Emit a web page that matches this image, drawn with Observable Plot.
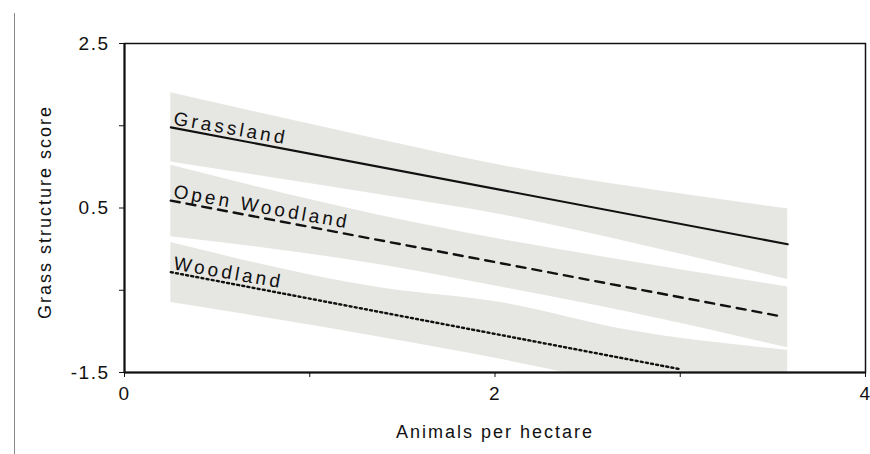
<!DOCTYPE html>
<html><head><meta charset="utf-8">
<script src="https://cdn.jsdelivr.net/npm/d3@7"></script>
<script src="https://cdn.jsdelivr.net/npm/@observablehq/plot@0.6"></script>
<style>
body{margin:0;background:#fff;}
#wrap{position:relative;width:870px;height:454px;}
#edge{position:absolute;left:14px;top:13px;width:0;height:441px;border-left:1.5px solid #8a8a8a;}
</style></head><body><div id="wrap"><div id="edge"></div></div>
<script>
const habitats = ["Grassland", "Open Woodland", "Woodland"];
const lineStartX = [0.25, 0.25, 0.25];
const lineStartY = [1.48, 0.59, -0.28];
const lineEndX = [3.58, 3.55, 3.0];
const lineEndY = [0.06, -0.82, -1.46];
const dashes = ["none", "9,7", "2,3.2"];

const bandX = [0.25, 1.38, 2.03, 2.73, 3.58];
const grassUpper = [1.90, 1.33, 1.02, 0.76, 0.49];
const grassLower = [1.06, 0.66, 0.42, 0.08, -0.37];
const openUpper = [1.02, 0.41, 0.12, -0.15, -0.46];
const openLower = [0.15, -0.19, -0.46, -0.77, -1.20];
const woodUpper = [0.08, -0.47, -0.65, -0.99, -1.23];
const woodLower = [-0.65, -1.07, -1.34, -1.68, -2.20];

const xTicks = [0, 1, 2, 3, 4];
const xTickLabels = ["0", "", "2", "", "4"];
const yTicks = [-1.5, -0.5, 0.5, 1.5, 2.5];
const yTickLabels = ["-1.5", "", "0.5", "", "2.5"];

const uppers = [grassUpper, openUpper, woodUpper];
const lowers = [grassLower, openLower, woodLower];
const bands = habitats.map((h, k) => bandX.map((x, i) => ({habitat: h, x, lo: lowers[k][i], hi: uppers[k][i]})));
const lines = habitats.map((h, k) => [
  {habitat: h, x: lineStartX[k], y: lineStartY[k]},
  {habitat: h, x: lineEndX[k], y: lineEndY[k]}
]);
const labels = habitats.map((h, k) => ({text: h, x: lineStartX[k], y: lineStartY[k]}));

const font = "Liberation Sans, Arial, Helvetica, sans-serif";
const chart = Plot.plot({
  width: 870, height: 454,
  marginLeft: 124, marginRight: 5, marginTop: 43, marginBottom: 82,
  style: {fontFamily: font, background: "transparent", color: "#111"},
  x: {domain: [0, 4]},
  y: {domain: [-1.5, 2.5]},
  marks: [
    ...bands.map(b => Plot.areaY(b, {x: "x", y1: "lo", y2: "hi", fill: "#e6e6e3", curve: "monotone-x", clip: true})),
    ...lines.map((l, k) => Plot.line(l, {x: "x", y: "y", stroke: "#111", strokeWidth: k === 0 ? 2.1 : 2.4, strokeDasharray: dashes[k], clip: true})),
    Plot.text(labels, {x: "x", y: "y", text: "text", rotate: 10, textAnchor: "start", lineAnchor: "bottom", dx: 2, dy: -3, fontSize: 19, fill: "#111", ariaDescription: "hab"}),
    Plot.frame({stroke: "#111", strokeWidth: 1.5}),
    Plot.ruleY([-1.5], {stroke: "#111", strokeWidth: 2}),
    Plot.ruleX([0], {stroke: "#111", strokeWidth: 2}),
    Plot.axisX({ticks: xTicks, tickFormat: (d) => xTickLabels[xTicks.indexOf(d)], tickSize: 5, tickPadding: 9, fontSize: 19, label: null, ariaDescription: "tick"}),
    Plot.axisY({ticks: yTicks, tickFormat: (d) => yTickLabels[yTicks.indexOf(d)], tickSize: 5, tickPadding: 10, fontSize: 19, label: null, ariaDescription: "tick"}),
    Plot.text(["Animals per hectare"], {frameAnchor: "bottom", dy: 65, fontSize: 18, fill: "#111", ariaDescription: "title"}),
    Plot.text(["Grass structure score"], {frameAnchor: "left", textAnchor: "middle", dx: -79, dy: 4, rotate: -90, fontSize: 18, fill: "#111", ariaDescription: "title"})
  ]
});
const s = d3.select(chart);
s.selectAll('[aria-description="hab"] text').style("letter-spacing", "3.2px");
s.selectAll('[aria-description="tick"] text').style("letter-spacing", "1.5px").style("font-size", "19px");
s.selectAll('[aria-description="tick"]').attr("font-size", "19");
s.selectAll('[aria-description="title"] text').style("letter-spacing", "2px");
document.getElementById("wrap").appendChild(chart);
chart.style.position = "absolute"; chart.style.left = "0"; chart.style.top = "0";
</script>
</body></html>
